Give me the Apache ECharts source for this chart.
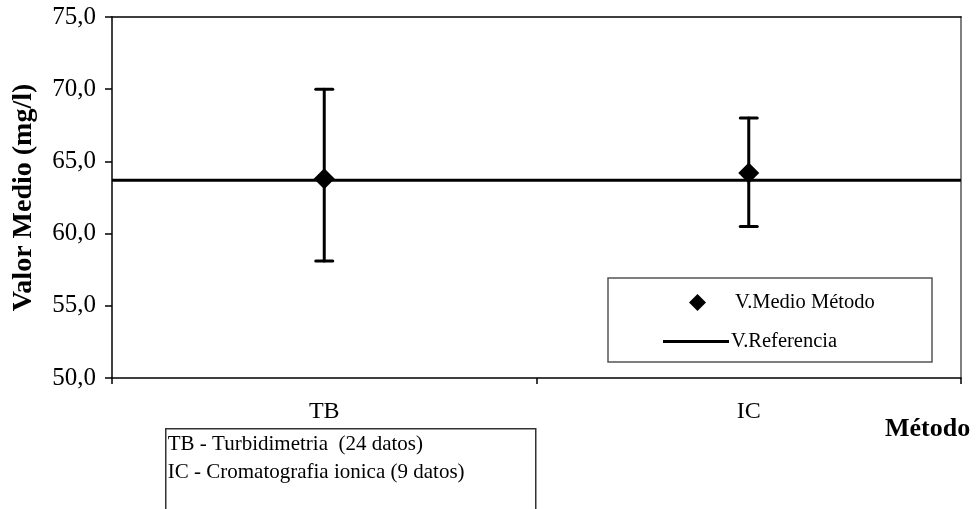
<!DOCTYPE html>
<html>
<head>
<meta charset="utf-8">
<script src="https://cdn.jsdelivr.net/npm/echarts@6/dist/echarts.min.js"></script>
<style>
  html, body { margin: 0; padding: 0; background: #fff; }
  #chart { width: 978px; height: 509px; }
</style>
</head>
<body>
<div id="chart"></div>
<script>
// metodos y valores medios (mg/l)
var categories = ["TB", "IC"];
var meanValues = [63.8, 64.2];
var lowValues = [58.1, 60.5];
var highValues = [70.0, 68.0];
var referenceValue = 63.7;
var noteLines = ["TB - Turbidimetria  (24 datos)", "IC - Cromatografia ionica (9 datos)"];

var serif = "Liberation Serif";

var errorData = categories.map(function (c, i) {
  return [i, lowValues[i], highValues[i]];
});

var chart = echarts.init(document.getElementById("chart"));

var option = {
  backgroundColor: "#fff",
  animation: false,
  grid: { left: 112, right: 17, top: 17, bottom: 131, containLabel: false, outerBoundsMode: "none" },
  xAxis: [
    {
      type: "category",
      data: categories,
      boundaryGap: true,
      axisLine: { lineStyle: { color: "#000", width: 1.5 } },
      axisTick: { show: true, length: 6, lineStyle: { color: "#000", width: 1.5 } },
      axisLabel: { color: "#000", fontFamily: serif, fontSize: 24, margin: 22 },
      splitLine: { show: false }
    },
    {
      // eje auxiliar para la linea de referencia (borde superior)
      type: "value",
      min: 0,
      max: 1,
      position: "top",
      axisLine: { show: true, lineStyle: { color: "#000", width: 1.5 } },
      axisTick: { show: false },
      axisLabel: { show: false },
      splitLine: { show: false }
    }
  ],
  yAxis: [
    {
      type: "value",
      min: 50,
      max: 75,
      interval: 5,
      axisLine: { show: true, lineStyle: { color: "#000", width: 1.5 } },
      axisTick: { show: true, length: 7, lineStyle: { color: "#000", width: 1.5 } },
      axisLabel: {
        color: "#000", fontFamily: serif, fontSize: 25, margin: 16,
        formatter: function (v) { return v.toFixed(1).replace(".", ","); }
      },
      splitLine: { show: false },
      name: "Valor Medio (mg/l)",
      nameLocation: "middle",
      nameGap: 74,
      nameRotate: 90,
      nameTextStyle: { color: "#000", fontFamily: serif, fontSize: 28, fontWeight: "bold" }
    },
    {
      type: "value",
      min: 50,
      max: 75,
      interval: 5,
      position: "right",
      axisLine: { show: true, lineStyle: { color: "#808080", width: 2 } },
      axisTick: { show: false },
      axisLabel: { show: false },
      splitLine: { show: false }
    }
  ],
  legend: [
    {
      data: [{ name: "V.Medio Método", icon: "diamond", itemStyle: { color: "#000", opacity: 1 } }],
      left: 689,
      top: 292,
      padding: 0,
      itemWidth: 17,
      itemHeight: 17,
      selectedMode: false,
      textStyle: { color: "#000", fontFamily: serif, fontSize: 20.5, padding: [0, 0, 0, 24] }
    },
    {
      data: [{ name: "V.Referencia", icon: "rect" }],
      left: 663,
      top: 331,
      padding: 0,
      itemWidth: 66,
      itemHeight: 3,
      selectedMode: false,
      textStyle: { color: "#000", fontFamily: serif, fontSize: 20.5, padding: [0, 0, 0, -3] }
    }
  ],
  graphic: [
    {
      type: "rect",
      shape: { x: 608, y: 278, width: 324, height: 84 },
      style: { fill: "#fff", stroke: "#555", lineWidth: 1.5 },
      z: -1
    },
    {
      // nombre del eje x
      type: "text",
      left: 885,
      top: 416,
      style: { text: "Método", fill: "#000", font: "bold 26px 'Liberation Serif'" }
    },
    {
      type: "group",
      left: 165,
      top: 428,
      children: [
        {
          type: "rect",
          shape: { x: 0, y: 0, width: 370, height: 90 },
          style: { fill: "#fff", stroke: "#333", lineWidth: 1.5 }
        },
        {
          type: "text",
          x: 2,
          y: 16,
          style: { text: noteLines[0], fill: "#000", font: "21px 'Liberation Serif'", verticalAlign: "middle" }
        },
        {
          type: "text",
          x: 2,
          y: 44,
          style: { text: noteLines[1], fill: "#000", font: "21px 'Liberation Serif'", verticalAlign: "middle" }
        }
      ]
    }
  ],
  series: [
    {
      name: "V.Referencia",
      type: "line",
      xAxisIndex: 1,
      yAxisIndex: 0,
      symbol: "none",
      data: [[0, referenceValue], [1, referenceValue]],
      lineStyle: { color: "#000", width: 3 },
      itemStyle: { color: "#000" },
      z: 2
    },
    {
      name: "barras",
      type: "custom",
      xAxisIndex: 0,
      yAxisIndex: 0,
      data: errorData,
      renderItem: function (params, api) {
        var lo = api.coord([api.value(0), api.value(1)]);
        var hi = api.coord([api.value(0), api.value(2)]);
        var half = 8.5;
        var st = { stroke: "#000", lineWidth: 3, lineCap: "round" };
        return {
          type: "group",
          children: [
            { type: "line", shape: { x1: lo[0], y1: lo[1], x2: hi[0], y2: hi[1] }, style: st },
            { type: "line", shape: { x1: hi[0] - half, y1: hi[1], x2: hi[0] + half, y2: hi[1] }, style: st },
            { type: "line", shape: { x1: lo[0] - half, y1: lo[1], x2: lo[0] + half, y2: lo[1] }, style: st }
          ]
        };
      },
      z: 3
    },
    {
      name: "V.Medio Método",
      type: "scatter",
      xAxisIndex: 0,
      yAxisIndex: 0,
      symbol: "diamond",
      symbolSize: [21, 21],
      data: meanValues,
      itemStyle: { color: "#000", opacity: 1 },
      z: 4
    }
  ]
};

chart.setOption(option);
</script>
</body>
</html>
